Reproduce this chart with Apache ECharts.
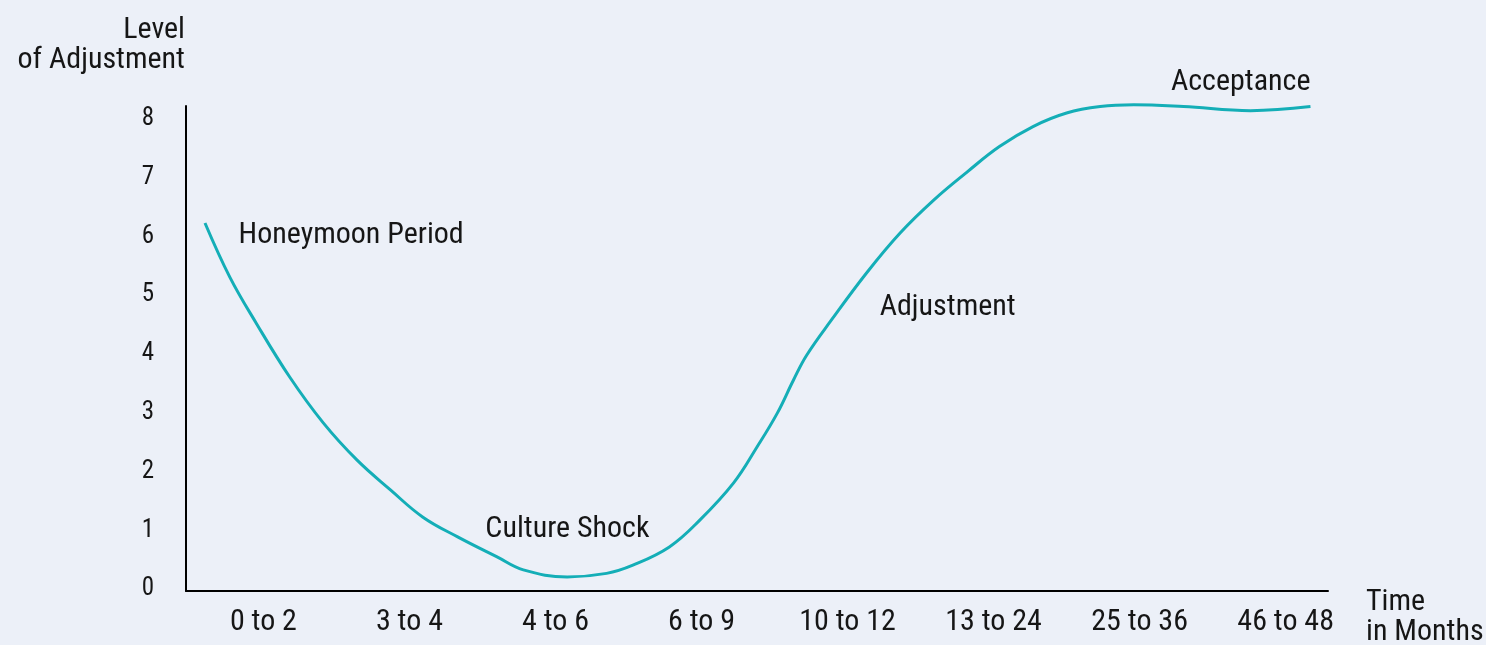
<!DOCTYPE html>
<html>
<head>
<meta charset="utf-8">
<script src="https://cdn.jsdelivr.net/npm/echarts@6/dist/echarts.min.js"></script>
<style>
  html, body { margin: 0; padding: 0; background: #ECF0F8; }
  #chart { width: 1486px; height: 645px; }
</style>
</head>
<body>
<div id="chart"></div>
<script>
// Time categories (x-axis tick labels), positioned at 0..7
const categories = ['0 to 2', '3 to 4', '4 to 6', '6 to 9', '10 to 12', '13 to 24', '25 to 36', '46 to 48'];
// Y tick labels
const yTicks = [0, 1, 2, 3, 4, 5, 6, 7, 8];
// Curve: x position on the time axis (category units), level of adjustment
const curveX = [-0.40, -0.23, -0.05, 0.18, 0.41, 0.64, 0.87, 1.09, 1.33, 1.60, 1.78, 2.08, 2.35, 2.53, 2.78, 2.99, 3.22, 3.38, 3.52, 3.63, 3.72, 3.89, 4.13, 4.36, 4.59, 4.82, 5.04, 5.27, 5.50, 5.73, 5.96, 6.30, 6.76, 7.17];
const curveY = [6.16, 5.24, 4.46, 3.54, 2.76, 2.13, 1.62, 1.16, 0.82, 0.48, 0.26, 0.14, 0.20, 0.34, 0.65, 1.11, 1.74, 2.35, 2.93, 3.49, 3.91, 4.51, 5.31, 5.99, 6.55, 7.03, 7.46, 7.80, 8.03, 8.14, 8.17, 8.14, 8.07, 8.14];
// Phase annotations
const phaseNames = ['Honeymoon Period', 'Culture Shock', 'Adjustment', 'Acceptance'];
const phaseX = [-0.17, 1.52, 4.22, 7.17];
const phaseY = [5.95, 0.95, 4.73, 8.55];
const phaseSide = ['right', 'right', 'right', 'left'];

const FONT = "'Liberation Sans Narrow', 'Roboto Condensed', 'DejaVu Sans Condensed', Roboto, sans-serif";
const TEXT = '#161616';

const chart = echarts.init(document.getElementById('chart'), null, { renderer: 'canvas' });

const curveData = curveX.map((x, i) => [x, curveY[i]]);
const phaseData = phaseNames.map((n, i) => ({
  name: n,
  value: [phaseX[i], phaseY[i]],
  label: { position: phaseSide[i] }
}));

chart.setOption({
  backgroundColor: '#ECF0F8',
  animation: false,
  grid: { left: 186, right: 158, top: 106, bottom: 54 },
  xAxis: {
    type: 'value',
    min: -0.53,
    max: 7.29,
    splitLine: { show: false },
    axisTick: { show: false },
    axisLine: { show: true, onZero: false, lineStyle: { color: '#000', width: 2 } },
    axisLabel: {
      customValues: categories.map((c, i) => i),
      formatter: v => categories[Math.round(v)],
      fontFamily: FONT, fontSize: 30, color: TEXT, margin: 16
    }
  },
  yAxis: {
    type: 'value',
    min: -0.1,
    max: 8.15,
    splitLine: { show: false },
    axisTick: { show: false },
    axisLine: { show: true, onZero: false, lineStyle: { color: '#000', width: 2 } },
    axisLabel: {
      customValues: yTicks,
      fontFamily: FONT, fontSize: 25, color: TEXT, margin: 32,
      verticalAlign: 'top', lineHeight: 8
    }
  },
  graphic: [
    {
      type: 'text', x: 185, y: 15,
      style: { text: 'Level\nof Adjustment', font: '30px ' + FONT, fill: TEXT, align: 'right', verticalAlign: 'top', lineHeight: 30 }
    },
    {
      type: 'text', x: 1366, y: 587,
      style: { text: 'Time\nin Months', font: '30px ' + FONT, fill: TEXT, align: 'left', verticalAlign: 'top', lineHeight: 30 }
    }
  ],
  series: [
    {
      type: 'line',
      data: curveData,
      smooth: 0.4,
      showSymbol: false,
      clip: false,
      lineStyle: { color: '#14AEB7', width: 3 }
    },
    {
      type: 'scatter',
      data: phaseData,
      symbolSize: 0,
      clip: false,
      silent: true,
      itemStyle: { opacity: 1 },
      label: {
        show: true, formatter: '{b}', distance: 0, opacity: 1,
        fontFamily: FONT, fontSize: 30, color: TEXT
      }
    }
  ]
});
</script>
</body>
</html>
